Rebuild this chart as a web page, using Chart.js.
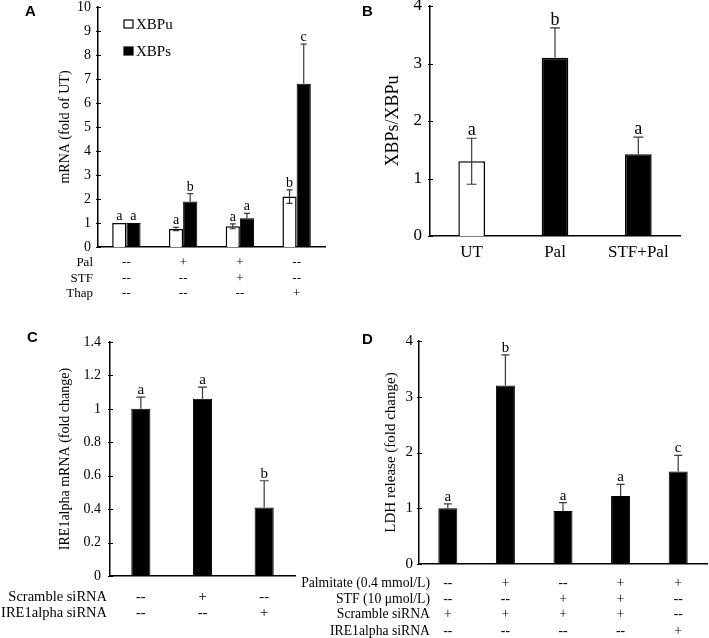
<!DOCTYPE html>
<html>
<head>
<meta charset="utf-8">
<script src="https://cdn.jsdelivr.net/npm/chart.js@4.4.1/dist/chart.umd.min.js"></script>
<style>
  body { margin: 0; background: #fff; width: 709px; height: 638px; position: relative; overflow: hidden; }
  canvas { position: absolute; }
  .tag { position: absolute; font: bold 15px 'Liberation Sans', Arial, sans-serif; line-height: 1; }
</style>
</head>
<body>
<canvas id="chartA" width="340" height="300" style="left:0;top:0"></canvas>
<canvas id="chartB" width="349" height="300" style="left:360px;top:0"></canvas>
<canvas id="chartC" width="360" height="338" style="left:0;top:300px"></canvas>
<canvas id="chartD" width="419" height="338" style="left:290px;top:300px"></canvas>
<div class="tag" style="left:25px;top:3px">A</div>
<div class="tag" style="left:362px;top:3px">B</div>
<div class="tag" style="left:27px;top:329px">C</div>
<div class="tag" style="left:362px;top:331px">D</div>
<script>
// Panel A - XBP1 mRNA
const aGroups = ['UT', 'Pal', 'STF+Pal', 'Thap'];
const aXbpu = [1.0, 0.75, 0.86, 2.1];
const aXbpuErr = [0, 0.07, 0.1, 0.28];
const aXbpuSig = ['a', 'a', 'a', 'b'];
const aXbps = [1.0, 1.9, 1.2, 6.8];
const aXbpsErr = [0, 0.32, 0.2, 1.65];
const aXbpsSig = ['a', 'b', 'a', 'c'];
const aPal = ['--', '+', '+', '--'];
const aStf = ['--', '--', '+', '--'];
const aThap = ['--', '--', '--', '+'];

// Panel B - ratio
const bGroups = ['UT', 'Pal', 'STF+Pal'];
const bRatio = [1.3, 3.1, 1.42];
const bRatioErr = [0.4, 0.52, 0.3];
const bSig = ['a', 'b', 'a'];

// Panel C - IRE1alpha knockdown
const cGroups = ['ctrl', 'scramble', 'ire1'];
const cMrna = [1.0, 1.06, 0.41];
const cMrnaErr = [0.07, 0.07, 0.16];
const cSig = ['a', 'a', 'b'];
const cScramble = ['--', '+', '--'];
const cIre1 = ['--', '--', '+'];

// Panel D - LDH release
const dGroups = ['g1', 'g2', 'g3', 'g4', 'g5'];
const dLdh = [1.0, 3.2, 0.95, 1.22, 1.66];
const dLdhErr = [0.08, 0.55, 0.15, 0.21, 0.29];
const dSig = ['a', 'b', 'a', 'a', 'c'];
const dPalmitate = ['--', '+', '--', '+', '+'];
const dStf = ['--', '--', '+', '+', '--'];
const dScramble = ['+', '+', '+', '+', '--'];
const dIre1 = ['--', '--', '--', '--', '+'];

const SERIF = "'Liberation Serif', 'Times New Roman', serif";
Chart.defaults.font.family = SERIF;
Chart.defaults.color = '#000';

// error bars + significance letters, drawn from the y scale
// whisker goes down too only on white (open) bars, black ones hide it
function errorBars(cap, letterSize) {
    return {
        id: 'errorBars',
        afterDatasetsDraw(chart) {
            const ctx = chart.ctx;
            const y = chart.scales.y;
            ctx.save();
            chart.data.datasets.forEach((ds, di) => {
                chart.getDatasetMeta(di).data.forEach((bar, i) => {
                    const v = ds.data[i], e = ds.errors[i];
                    const fill = Array.isArray(ds.backgroundColor) ? ds.backgroundColor[i] : ds.backgroundColor;
                    const both = fill === '#ffffff';
                    const top = y.getPixelForValue(v + e);
                    if (e > 0) {
                        const bottom = y.getPixelForValue(both ? v - e : v);
                        ctx.strokeStyle = '#3a3a3a';
                        ctx.lineWidth = 1.2;
                        ctx.beginPath();
                        ctx.moveTo(bar.x, top);
                        ctx.lineTo(bar.x, bottom);
                        ctx.moveTo(bar.x - cap / 2, top);
                        ctx.lineTo(bar.x + cap / 2, top);
                        if (both) {
                            ctx.moveTo(bar.x - cap / 2, bottom);
                            ctx.lineTo(bar.x + cap / 2, bottom);
                        }
                        ctx.stroke();
                    }
                    ctx.fillStyle = '#000';
                    ctx.font = letterSize + 'px ' + SERIF;
                    ctx.textAlign = 'center';
                    ctx.textBaseline = 'alphabetic';
                    ctx.fillText(ds.sig[i], bar.x, top - 3);
                });
            });
            ctx.restore();
        }
    };
}

// treatment table under the x axis
function rowTable(rows, ys, labelX, size) {
    return {
        id: 'rowTable',
        afterDraw(chart) {
            const ctx = chart.ctx;
            const x = chart.scales.x;
            ctx.save();
            ctx.font = size + 'px ' + SERIF;
            ctx.fillStyle = '#000';
            ctx.textBaseline = 'middle';
            rows.forEach((row, r) => {
                ctx.textAlign = 'right';
                ctx.fillText(row.label, labelX, ys[r]);
                ctx.textAlign = 'center';
                row.marks.forEach((m, i) => ctx.fillText(m, x.getPixelForValue(i), ys[r]));
            });
            ctx.restore();
        }
    };
}

// small legend inside panel A
const legendA = {
    id: 'legendA',
    afterDraw(chart) {
        const ctx = chart.ctx;
        ctx.save();
        chart.data.datasets.forEach((ds, i) => {
            const bx = 124, by = 20 + i * 27;
            ctx.fillStyle = ds.backgroundColor;
            ctx.fillRect(bx, by, 9, 8);
            ctx.strokeStyle = '#000';
            ctx.lineWidth = 1.2;
            ctx.strokeRect(bx, by, 9, 8);
            ctx.fillStyle = '#000';
            ctx.font = '15px ' + SERIF;
            ctx.textAlign = 'left';
            ctx.textBaseline = 'middle';
            ctx.fillText(ds.label, bx + 12, by + 5);
        });
        ctx.restore();
    }
};

// y axis tick marks crossing the axis line
const crossTicks = {
    id: 'crossTicks',
    afterDraw(chart) {
        const ctx = chart.ctx, y = chart.scales.y;
        const x0 = chart.chartArea.left;
        ctx.save();
        ctx.strokeStyle = '#000';
        ctx.lineWidth = 1.2;
        ctx.beginPath();
        y.ticks.forEach(t => {
            const py = Math.round(y.getPixelForValue(t.value)) + 0.5;
            ctx.moveTo(x0 - 2, py);
            ctx.lineTo(x0 + 3, py);
        });
        ctx.stroke();
        ctx.restore();
    }
};

function yScale(max, step, width, tickSize, tickPad, title, titleSize, titlePad) {
    return {
        min: 0,
        max: max,
        ticks: {
            stepSize: step,
            font: { size: tickSize },
            padding: tickPad,
            callback: v => String(Math.round(v * 10) / 10)
        },
        grid: { display: false, drawTicks: false },
        border: { display: true, color: '#000', width: 1.5 },
        title: {
            display: true,
            text: title,
            font: { size: titleSize },
            padding: { top: titlePad, bottom: 0 }
        },
        afterFit(s) {
            s.width = width;
            s.paddingTop = 0;
            s.paddingBottom = 0;
        }
    };
}

function xScale(height, showTicks, tickSize) {
    return {
        grid: { display: false, drawTicks: false },
        border: { display: true, color: '#000', width: 1.5 },
        ticks: { display: showTicks, font: { size: tickSize }, padding: 6, maxRotation: 0 },
        afterFit(s) {
            s.height = height;
            s.paddingLeft = 0;
            s.paddingRight = 0;
        }
    };
}

new Chart(document.getElementById('chartA'), {
    type: 'bar',
    data: {
        labels: aGroups,
        datasets: [
        {
            label: 'XBPu',
            data: aXbpu,
            errors: aXbpuErr,
            sig: aXbpuSig,
            backgroundColor: '#ffffff',
            borderColor: '#000',
            borderWidth: 1.5,
            categoryPercentage: 0.5,
            barPercentage: 1.0
        },
        {
            label: 'XBPs',
            data: aXbps,
            errors: aXbpsErr,
            sig: aXbpsSig,
            backgroundColor: '#000000',
            borderColor: '#000',
            borderWidth: 1,
            categoryPercentage: 0.5,
            barPercentage: 1.0
        }
        ]
    },
    options: {
        responsive: false,
        animation: false,
        layout: { padding: { left: 0, top: 7, right: 15, bottom: 53 } },
        scales: {
            x: xScale(0, false, 13),
            y: yScale(10, 1, 98, 14, 7, 'mRNA (fold of UT)', 14, 57)
        },
        plugins: { legend: { display: false }, tooltip: { enabled: false } }
    },
    plugins: [
        errorBars(6, 14),
        legendA,
        crossTicks,
        rowTable([
            { label: 'Pal', marks: aPal },
            { label: 'STF', marks: aStf },
            { label: 'Thap', marks: aThap }
        ], [263, 279, 294], 93, 13)
    ]
});

new Chart(document.getElementById('chartB'), {
    type: 'bar',
    data: {
        labels: bGroups,
        datasets: [{
            label: 'XBPs/XBPu',
            data: bRatio,
            errors: bRatioErr,
            sig: bSig,
            backgroundColor: ['#ffffff', '#000000', '#000000'],
            borderColor: '#000',
            borderWidth: 1.5,
            categoryPercentage: 1.0,
            barPercentage: 0.32
        }]
    },
    options: {
        responsive: false,
        animation: false,
        layout: { padding: { left: 0, top: 6, right: 29, bottom: 0 } },
        scales: {
            x: xScale(64, true, 17),
            y: yScale(4, 1, 70, 17, 8, 'XBPs/XBPu', 18, 22)
        },
        plugins: { legend: { display: false }, tooltip: { enabled: false } }
    },
    plugins: [errorBars(10, 18), crossTicks]
});

new Chart(document.getElementById('chartC'), {
    type: 'bar',
    data: {
        labels: cGroups,
        datasets: [{
            label: 'IRE1alpha mRNA',
            data: cMrna,
            errors: cMrnaErr,
            sig: cSig,
            backgroundColor: '#000000',
            borderColor: '#000',
            borderWidth: 1,
            categoryPercentage: 1.0,
            barPercentage: 0.31
        }]
    },
    options: {
        responsive: false,
        animation: false,
        layout: { padding: { left: 0, top: 42, right: 65, bottom: 62 } },
        scales: {
            x: xScale(0, false, 14),
            y: yScale(1.4, 0.2, 110, 14, 9, 'IRE1alpha mRNA (fold change)', 14, 57)
        },
        plugins: { legend: { display: false }, tooltip: { enabled: false } }
    },
    plugins: [
        errorBars(9, 15),
        crossTicks,
        rowTable([
            { label: 'Scramble siRNA', marks: cScramble },
            { label: 'IRE1alpha siRNA', marks: cIre1 }
        ], [297, 313], 107, 14.5)
    ]
});

new Chart(document.getElementById('chartD'), {
    type: 'bar',
    data: {
        labels: dGroups,
        datasets: [{
            label: 'LDH release',
            data: dLdh,
            errors: dLdhErr,
            sig: dSig,
            backgroundColor: '#000000',
            borderColor: '#000',
            borderWidth: 1,
            categoryPercentage: 1.0,
            barPercentage: 0.33
        }]
    },
    options: {
        responsive: false,
        animation: false,
        layout: { padding: { left: 0, top: 41, right: 2, bottom: 74 } },
        scales: {
            x: xScale(0, false, 13),
            y: yScale(4, 1, 129, 15, 6, 'LDH release (fold change)', 15, 92)
        },
        plugins: { legend: { display: false }, tooltip: { enabled: false } }
    },
    plugins: [
        errorBars(8, 15),
        crossTicks,
        rowTable([
            { label: 'Palmitate (0.4 mmol/L)', marks: dPalmitate },
            { label: 'STF (10 μmol/L)', marks: dStf },
            { label: 'Scramble siRNA', marks: dScramble },
            { label: 'IRE1alpha siRNA', marks: dIre1 }
        ], [283, 299, 314, 331], 140, 13.7)
    ]
});
</script>
</body>
</html>
